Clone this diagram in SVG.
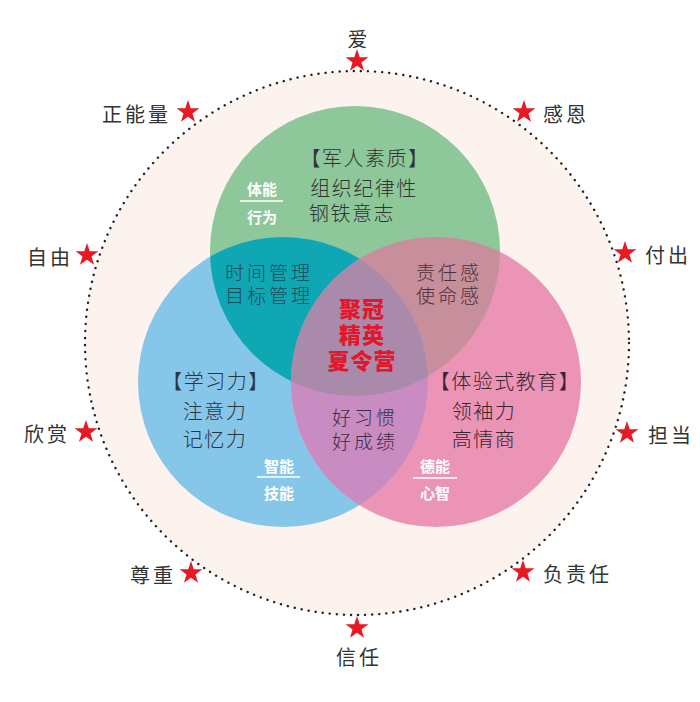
<svg xmlns="http://www.w3.org/2000/svg" width="700" height="702" viewBox="0 0 700 702">
<defs>
<style>
.lbl{font-family:"Noto Sans CJK SC","Noto Sans",sans-serif;font-size:20px;fill:#333;letter-spacing:3px;dominant-baseline:central}
.t{font-family:"Noto Sans CJK SC","Noto Sans",sans-serif;font-size:20px;letter-spacing:1.5px;dominant-baseline:central;text-anchor:middle;font-weight:300}
.s{font-size:19px;letter-spacing:3px}
.w{font-family:"Noto Sans CJK SC","Noto Sans",sans-serif;font-size:15px;fill:#fff;font-weight:700;dominant-baseline:central;text-anchor:middle}
.r{font-family:"Noto Sans CJK SC","Noto Sans",sans-serif;font-size:22px;fill:#e3162a;font-weight:900;dominant-baseline:central;text-anchor:middle;letter-spacing:1px}
.star{fill:#e51a24}
.wl{stroke:#fff;stroke-width:1.3}
</style>
<path id="star" d="M0,-12 L2.763,-3.802 L11.413,-3.708 L4.47,1.452 L7.053,9.708 L0,4.7 L-7.053,9.708 L-4.47,1.452 L-11.413,-3.708 L-2.763,-3.802Z"/>
<clipPath id="cG"><circle cx="355" cy="251" r="145"/></clipPath>
<clipPath id="cB"><circle cx="283" cy="382" r="145"/></clipPath>
</defs>
<rect width="700" height="702" fill="#fff"/>
<g id="outer-ring">
<circle cx="357" cy="343" r="272" fill="#fcf3ee" stroke="#222" stroke-width="2.4" stroke-dasharray="0.1 7" stroke-linecap="round"/>
</g>
<g id="venn">
<circle id="green" cx="355" cy="251" r="145" fill="#8ec89a"/>
<circle id="blue" cx="283" cy="382" r="145" fill="#86c6e8"/>
<circle id="pink" cx="436" cy="382" r="145" fill="#eb94b6"/>
<circle cx="283" cy="382" r="145" fill="#10a7b5" clip-path="url(#cG)"/>
<circle cx="436" cy="382" r="145" fill="#c78e9c" clip-path="url(#cG)"/>
<circle cx="436" cy="382" r="145" fill="#c88cc2" clip-path="url(#cB)"/>
<g clip-path="url(#cG)"><circle cx="436" cy="382" r="145" fill="#a98aaa" clip-path="url(#cB)"/></g>
</g>
<g id="node-green">
<text class="t" x="365" y="157" fill="#333">【军人素质】</text>
<text class="t" fill="#333"><tspan x="364" y="187">组织纪律性</tspan><tspan x="352" y="212">钢铁意志</tspan></text>
<text class="w"><tspan x="262" y="188">体能</tspan><tspan x="262" y="216">行为</tspan></text>
<line class="wl" x1="240" y1="201" x2="283" y2="201"/>
</g>
<g id="node-green-blue">
<text class="t s" fill="#1d4a58"><tspan x="269" y="271">时间管理</tspan><tspan x="269" y="294">目标管理</tspan></text>
</g>
<g id="node-green-pink">
<text class="t s" fill="#4a3038"><tspan x="449" y="271">责任感</tspan><tspan x="449" y="294">使命感</tspan></text>
</g>
<g id="node-center">
<text class="r"><tspan x="362" y="307">聚冠</tspan><tspan x="362" y="333">精英</tspan><tspan x="362" y="359">夏令营</tspan></text>
</g>
<g id="node-blue">
<text class="t" x="216" y="380" fill="#2b3640">【学习力】</text>
<text class="t" fill="#2b3640"><tspan x="215" y="410">注意力</tspan><tspan x="215" y="438">记忆力</tspan></text>
<text class="w"><tspan x="279" y="465">智能</tspan><tspan x="279" y="492">技能</tspan></text>
<line class="wl" x1="257" y1="477" x2="300" y2="477"/>
</g>
<g id="node-blue-pink">
<text class="t s" fill="#3e2c44"><tspan x="365" y="416">好习惯</tspan><tspan x="365" y="440">好成绩</tspan></text>
</g>
<g id="node-pink">
<text class="t" x="505" y="380" fill="#3a2530">【体验式教育】</text>
<text class="t" fill="#3a2530"><tspan x="484" y="410">领袖力</tspan><tspan x="484" y="438">高情商</tspan></text>
<text class="w"><tspan x="435" y="465">德能</tspan><tspan x="435" y="492">心智</tspan></text>
<line class="wl" x1="413" y1="478" x2="457" y2="478"/>
</g>
<g id="labels">
<g id="l-ai"><use href="#star" class="star" x="357" y="61"/><text class="lbl" x="359" y="38" text-anchor="middle">爱</text></g>
<g id="l-znl"><use href="#star" class="star" x="188" y="112"/><text class="lbl" x="171" y="113" text-anchor="end">正能量</text></g>
<g id="l-ge"><use href="#star" class="star" x="524" y="112"/><text class="lbl" x="543" y="113">感恩</text></g>
<g id="l-zy"><use href="#star" class="star" x="87" y="255"/><text class="lbl" x="73" y="256" text-anchor="end">自由</text></g>
<g id="l-fc"><use href="#star" class="star" x="625" y="253"/><text class="lbl" x="645" y="254">付出</text></g>
<g id="l-xs"><use href="#star" class="star" x="86" y="432"/><text class="lbl" x="70" y="433" text-anchor="end">欣赏</text></g>
<g id="l-dd"><use href="#star" class="star" x="627" y="433"/><text class="lbl" x="648" y="434">担当</text></g>
<g id="l-zz"><use href="#star" class="star" x="191" y="573"/><text class="lbl" x="176" y="574" text-anchor="end">尊重</text></g>
<g id="l-fzr"><use href="#star" class="star" x="523" y="572"/><text class="lbl" x="543" y="573">负责任</text></g>
<g id="l-xr"><use href="#star" class="star" x="357" y="628"/><text class="lbl" x="359" y="656" text-anchor="middle">信任</text></g>
</g>
</svg>
